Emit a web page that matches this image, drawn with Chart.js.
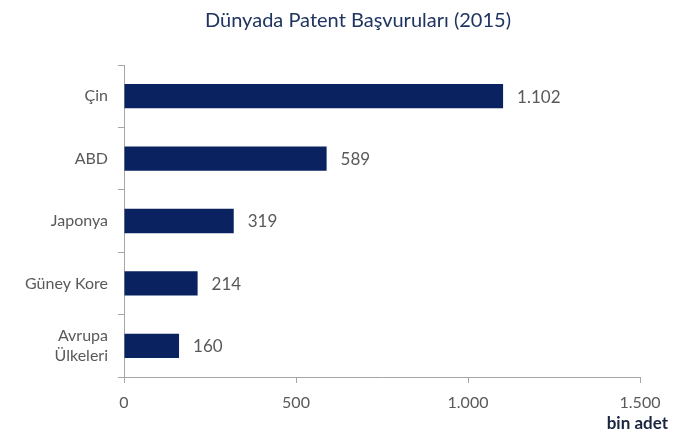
<!DOCTYPE html>
<html lang="tr">
<head>
  <meta charset="UTF-8" />
  <title>Dünyada Patent Başvuruları (2015)</title>
  <script src="https://cdn.jsdelivr.net/npm/chart.js"></script>
  <style>
    body { margin: 0; background: #fff; }
    #wrap { width: 692px; height: 434px; }
  </style>
</head>
<body>
  <div id="wrap"><canvas id="patentChart" width="692" height="434"></canvas></div>

  <script>
    const chartTitle = 'Dünyada Patent Başvuruları (2015)';
    const countries = ['Çin', 'ABD', 'Japonya', 'Güney Kore', ['Avrupa', 'Ülkeleri']];
    const applications = [1102, 589, 319, 214, 160];
    const xTicks = [0, 500, 1000, 1500];
    const unitLabel = 'bin adet';

    const textGray = '#595959';
    const barBlue = '#0b2260';
    const fontName = 'Lato, "Open Sans", sans-serif';

    function fmt(v) {
      return String(v).replace(/\B(?=(\d{3})+(?!\d))/g, '.');
    }

    const extraText = {
      id: 'extraText',
      afterDatasetsDraw(chart) {
        const ctx = chart.ctx;
        const meta = chart.getDatasetMeta(0);
        ctx.save();
        ctx.font = '17px ' + fontName;
        ctx.fillStyle = textGray;
        ctx.textAlign = 'left';
        ctx.textBaseline = 'middle';
        meta.data.forEach((bar, i) => {
          ctx.fillText(fmt(applications[i]), bar.x + 14, bar.y + 1);
        });
        // title, sits a little right of centre like the original
        ctx.font = '20px ' + fontName;
        ctx.fillStyle = '#1f3461';
        ctx.textAlign = 'center';
        ctx.fillText(chartTitle, 358, 21);
        // unit label
        ctx.font = 'bold 17px ' + fontName;
        ctx.fillStyle = '#1a2540';
        ctx.textAlign = 'right';
        ctx.fillText(unitLabel, chart.chartArea.right + 28, 424);
        ctx.restore();
      }
    };

    new Chart(document.getElementById('patentChart'), {
      type: 'bar',
      data: {
        labels: countries,
        datasets: [{
          data: applications,
          backgroundColor: barBlue,
          barPercentage: 0.39,
          categoryPercentage: 1.0
        }]
      },
      options: {
        indexAxis: 'y',
        responsive: false,
        animation: false,
        layout: { padding: { top: 65, right: 52 } },
        plugins: {
          legend: { display: false },
          tooltip: { enabled: false },
          title: { display: false }
        },
        scales: {
          x: {
            min: 0,
            max: 1500,
            afterBuildTicks(scale) {
              scale.ticks = xTicks.map(v => ({ value: v }));
            },
            afterFit(scale) { scale.height = 57; },
            grid: { drawOnChartArea: false, tickLength: 6, color: '#a6a6a6' },
            border: { color: '#a6a6a6' },
            ticks: {
              color: textGray,
              padding: 10,
              font: { family: fontName, size: 16 },
              callback: v => fmt(v)
            }
          },
          y: {
            afterFit(scale) { scale.width = 124; },
            grid: { drawOnChartArea: false, tickLength: 6, offset: true, color: '#a6a6a6' },
            border: { color: '#a6a6a6' },
            ticks: {
              color: textGray,
              padding: 10,
              font: { family: fontName, size: 16 }
            }
          }
        }
      },
      plugins: [extraText]
    });
  </script>
</body>
</html>
